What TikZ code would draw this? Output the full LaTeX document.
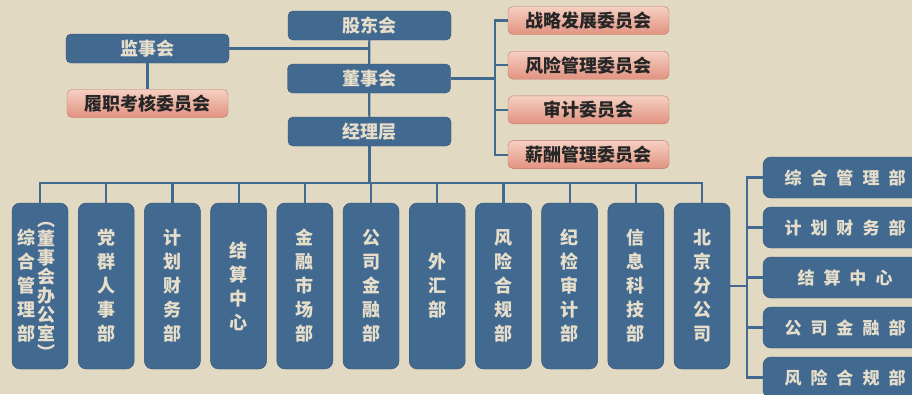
\documentclass[tikz,border=0pt]{standalone}
\usepackage{fontspec}
\newfontfamily\cjk{Noto Sans CJK SC}
\usepackage{xcolor}
\definecolor{bgbeige}{RGB}{226,217,195}
\definecolor{bluefill}{RGB}{66,106,145}
\definecolor{blueline}{RGB}{48,80,112}
\definecolor{bluetext}{RGB}{230,222,202}
\definecolor{pinktop}{RGB}{245,208,194}
\definecolor{pinkbot}{RGB}{226,146,128}
\definecolor{pinkline}{RGB}{192,120,106}
\newcommand{\kg}{\hspace{9pt}}

\tikzset{
  bluebox/.style={draw=blueline, fill=bluefill, text=bluetext, inner sep=0pt, align=center,
    font=\cjk\bfseries\fontsize{18}{24}\selectfont},
  topbox/.style={bluebox, rounded corners=5pt, minimum width=163pt, minimum height=29pt},
  pinkbox/.style={draw=pinkline, top color=pinktop, bottom color=pinkbot, text=black!85,
    rounded corners=5pt, inner sep=0pt, minimum width=161pt, minimum height=28pt,
    font=\cjk\bfseries\fontsize{18}{24}\selectfont},
  deptbox/.style={bluebox, rounded corners=8pt, minimum width=56pt, minimum height=166pt},
  subbox/.style={bluebox, rounded corners=8pt, minimum width=164pt, minimum height=41pt,
    font=\cjk\bfseries\fontsize{17}{20}\selectfont},
  wire/.style={draw=bluefill, line width=2.2pt}
}

\begin{document}
\begin{tikzpicture}[x=1pt, y=-1pt]
    \useasboundingbox (0,0) rectangle (912,394);
    \fill[bgbeige] (0,0) rectangle (912,394);
    \clip (0,0) rectangle (912,394);

    % Top: shareholders, board, management, supervisors
    \node[topbox] (gd) at (369.5,25.5) {股东会};
    \node[topbox] (dsh) at (369,78.5) {董事会};
    \node[topbox] (jl) at (369.5,131.5) {经理层};
    \node[topbox] (jsh) at (147.5,48.5) {监事会};
    \node[pinkbox] (lz) at (147.5,103.5) {履职考核委员会};

    % Board committees
    \foreach \t [count=\i] in {战略发展委员会, 风险管理委员会, 审计委员会, 薪酬管理委员会}
      \node[pinkbox] (c\i) at (588.5,{20.5+44.7*(\i-1)}) {\t};

    % Departments
    \foreach \t [count=\i] in {{}, {党\\群\\人\\事\\部}, {计\\划\\财\\务\\部}, {结\\算\\中\\心},
        {金\\融\\市\\场\\部}, {公\\司\\金\\融\\部}, {外\\汇\\部}, {风\\险\\合\\规\\部},
        {纪\\检\\审\\计\\部}, {信\\息\\科\\技\\部}, {北\\京\\分\\公\\司}}
      \node[deptbox] (d\i) at ({40+66.2*(\i-1)},286) {\t};
    \node[text=bluetext, align=center, inner sep=0pt, font=\cjk\bfseries\fontsize{18}{24}\selectfont]
      (d1a) at ([xshift=-14pt]d1.center) {综\\合\\管\\理\\部};
    \node[text=bluetext, align=center, inner sep=0pt, font=\cjk\bfseries\fontsize{18}{19}\selectfont]
      (d1b) at ([xshift=6pt, yshift=-5pt]d1.center) {︵\\董\\事\\会\\办\\公\\室\\︶};

    % Beijing branch departments
    \foreach \t [count=\i] in {综\kg 合\kg 管\kg 理\kg 部, 计\kg 划\kg 财\kg 务\kg 部,
        结\kg 算\kg 中\kg 心, 公\kg 司\kg 金\kg 融\kg 部, 风\kg 险\kg 合\kg 规\kg 部}
      \node[subbox] (b\i) at (845,{177.5+50*(\i-1)}) {\t};

    % Connectors
    \draw[wire] (gd) -- (dsh);
    \draw[wire] (dsh) -- (jl);
    \draw[wire] (jsh.east) -- (gd.south |- jsh.east);
    \draw[wire] (jsh) -- (lz);
    \foreach \i in {1,...,4}
      \draw[wire] (dsh.east) -- ++(44,0) |- (c\i.west);
    \foreach \i in {1,...,11}
      \draw[wire] (jl.south) -- ++(0,37) -| (d\i.north);
    \foreach \i in {1,...,5}
      \draw[wire] (d11.east) -- ++(17,0) |- (b\i.west);
\end{tikzpicture}
\end{document}
